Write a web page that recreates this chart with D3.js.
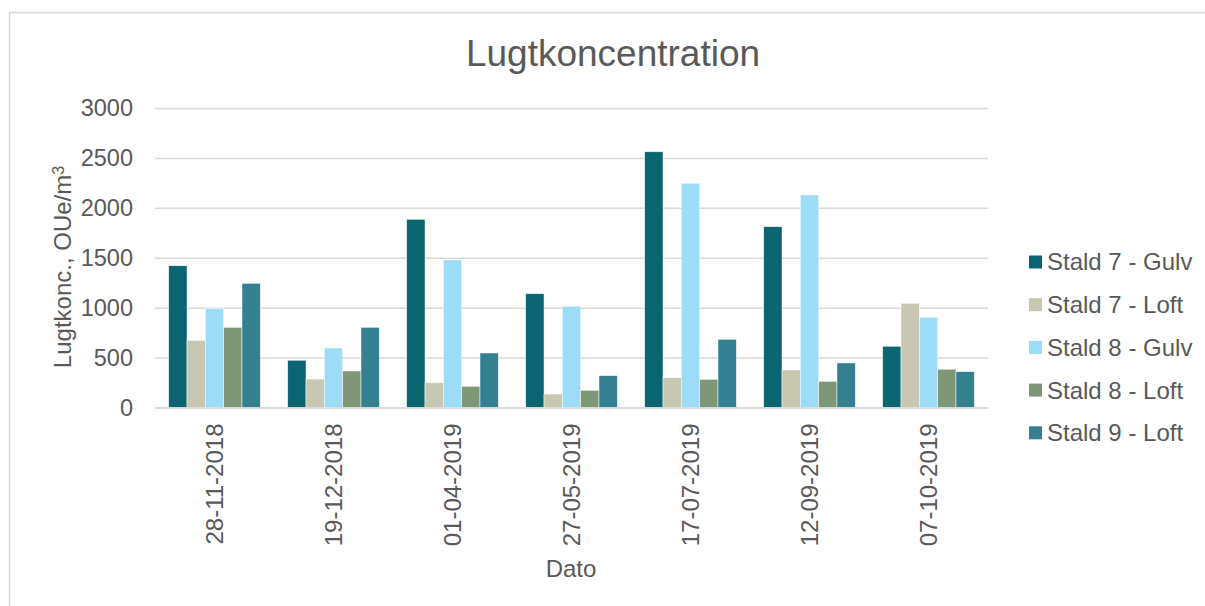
<!DOCTYPE html>
<html>
<head>
<meta charset="utf-8">
<script src="https://cdn.jsdelivr.net/npm/d3@7"></script>
<style>
  body { margin: 0; background: #fff; }
  svg { display: block; font-family: "Liberation Sans", Arial, sans-serif; }
</style>
</head>
<body>
<div id="chart"></div>
<script>
const dates = ['28-11-2018', '19-12-2018', '01-04-2019', '27-05-2019', '17-07-2019', '12-09-2019', '07-10-2019'];
const seriesNames = ['Stald 7 - Gulv', 'Stald 7 - Loft', 'Stald 8 - Gulv', 'Stald 8 - Loft', 'Stald 9 - Loft'];
const stald7Gulv = [1420, 473, 1885, 1140, 2562, 1811, 613];
const stald7Loft = [673, 285, 248, 135, 299, 376, 1044];
const stald8Gulv = [990, 596, 1478, 1014, 2246, 2129, 904];
const stald8Loft = [803, 366, 212, 172, 282, 262, 383];
const stald9Loft = [1244, 803, 546, 319, 683, 446, 359];
const yTicks = [0, 500, 1000, 1500, 2000, 2500, 3000];

const seriesValues = [stald7Gulv, stald7Loft, stald8Gulv, stald8Loft, stald9Loft];
const colors = ['#0a6570', '#c8c8b2', '#9ddcf7', '#7e9777', '#348090'];

const width = 1205;
const height = 606;
const textColor = '#595959';
const gridColor = '#d9d9d9';

const marginLeft = 155;
const marginRight = 217;
const marginTop = 108;
const plotBottom = 407.5;

const svg = d3.select('#chart').append('svg')
    .attr('width', width)
    .attr('height', height);

// outer chart border
svg.append('rect')
    .attr('x', 9.5)
    .attr('y', 12.5)
    .attr('width', width + 10)
    .attr('height', height + 10)
    .style('fill', '#fff')
    .style('stroke', gridColor)
    .style('stroke-width', 1.5);

const x = d3.scaleBand()
    .domain(dates)
    .range([marginLeft, width - marginRight])
    .paddingInner(0.23)
    .paddingOuter(0.115);

const xSub = d3.scaleBand()
    .domain(seriesNames)
    .range([0, x.bandwidth()]);

const y = d3.scaleLinear()
    .domain([0, 3000])
    .range([plotBottom, marginTop]);

// Grid lines + y labels
const yAxis = d3.axisLeft(y)
    .tickValues(yTicks)
    .tickFormat(d3.format('d'))
    .tickSize(-(width - marginRight - marginLeft))
    .tickPadding(22);

svg.append('g')
    .attr('class', 'yAxis')
    .attr('transform', `translate(${marginLeft}, 0)`)
    .call(yAxis)
    .call(sel => sel.select('.domain').remove())
    .call(sel => sel.selectAll('line').style('stroke', gridColor).style('stroke-width', 1.5))
    .call(sel => sel.selectAll('text')
        .style('fill', textColor)
        .style('font-size', '23.5px')
        .style('font-family', '"Liberation Sans", Arial, sans-serif'));

// Bars
const groups = svg.append('g').attr('class', 'bars')
    .selectAll('g')
    .data(seriesNames)
    .enter()
    .append('g')
    .style('fill', (d, i) => colors[i]);

groups.selectAll('rect')
    .data((name, si) => seriesValues[si].map((value, i) => ({name, value, date: dates[i]})))
    .enter()
    .append('rect')
    .attr('x', d => x(d.date) + xSub(d.name))
    .attr('y', d => y(d.value))
    .attr('width', xSub.bandwidth())
    .attr('height', d => y(0) - y(d.value))
    .style('stroke', 'rgba(255,255,255,0.7)')
    .style('stroke-width', 0.7);

// x axis
svg.append('g')
    .attr('class', 'xAxis')
    .attr('transform', `translate(0, ${plotBottom})`)
    .call(d3.axisBottom(x).tickSize(0))
    .call(sel => sel.select('.domain').style('stroke', gridColor).style('stroke-width', 1.5))
    .selectAll('text')
    .attr('x', -16)
    .attr('y', 0)
    .attr('dy', '0.35em')
    .attr('transform', 'rotate(-90)')
    .style('text-anchor', 'end')
    .style('fill', textColor)
    .style('font-size', '24px')
    .style('font-family', '"Liberation Sans", Arial, sans-serif');

// Title
svg.append('text')
    .attr('x', 613)
    .attr('y', 66)
    .attr('text-anchor', 'middle')
    .style('fill', textColor)
    .style('font-size', '37px')
    .text('Lugtkoncentration');

// Axis titles
svg.append('text')
    .attr('x', 571)
    .attr('y', 577)
    .attr('text-anchor', 'middle')
    .style('fill', textColor)
    .style('font-size', '24px')
    .text('Dato');

const yTitle = svg.append('text')
    .attr('transform', 'translate(71, 267) rotate(-90)')
    .attr('text-anchor', 'middle')
    .style('fill', textColor)
    .style('font-size', '24px');
yTitle.append('tspan').text('Lugtkonc., OUe/m');
yTitle.append('tspan').attr('dy', '-0.45em').style('font-size', '16px').text('3');

// Legend
const legend = svg.append('g').attr('class', 'legend')
    .selectAll('g')
    .data(seriesNames)
    .enter()
    .append('g')
    .attr('transform', (d, i) => `translate(1029, ${262 + i * 42.7})`);

legend.append('rect')
    .attr('x', 0)
    .attr('y', -6.5)
    .attr('width', 13)
    .attr('height', 13)
    .style('fill', (d, i) => colors[i]);

legend.append('text')
    .attr('x', 18)
    .attr('y', 0)
    .attr('dy', '0.35em')
    .style('fill', textColor)
    .style('font-size', '24px')
    .text(d => d);
</script>
</body>
</html>
